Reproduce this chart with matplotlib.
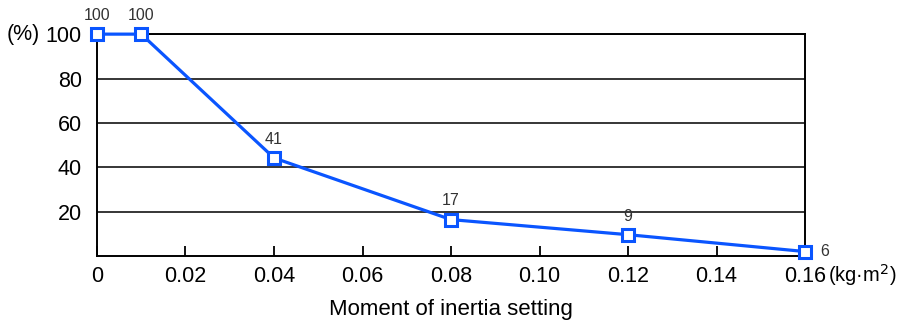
import matplotlib.pyplot as plt

plt.rcParams['font.family'] = ['Liberation Sans', 'DejaVu Sans']

# data
inertia = [0.0, 0.01, 0.04, 0.08, 0.12, 0.16]
percent = [100, 100, 44.2, 16.4, 9.6, 2.0]
point_labels = ['100', '100', '41', '17', '9', '6']
x_ticks = [0, 0.02, 0.04, 0.06, 0.08, 0.10, 0.12, 0.14, 0.16]
x_tick_labels = ['0', '0.02', '0.04', '0.06', '0.08', '0.10', '0.12', '0.14', '0.16']
y_ticks = [20, 40, 60, 80, 100]

blue = '#0a55ff'

fig = plt.figure(figsize=(8.98, 3.22), dpi=100)
ax = fig.add_axes([0.108, 0.205, 0.7885, 0.689])

for yv in y_ticks:
    ax.axhline(yv, color='black', linewidth=1.1, zorder=1)

ax.plot(inertia, percent, color=blue, linewidth=2.3, marker='s', markersize=9,
        markerfacecolor='white', markeredgecolor=blue, markeredgewidth=2.2,
        clip_on=False, zorder=3)

# value labels
for i, (xv, yv, lab) in enumerate(zip(inertia, percent, point_labels)):
    if i == len(inertia) - 1:
        ax.annotate(lab, (xv, yv), xytext=(11, 0), textcoords='offset points',
                    ha='left', va='center', fontsize=11.5, color='#333333')
    else:
        ax.annotate(lab, (xv, yv), xytext=(0, 8), textcoords='offset points',
                    ha='center', va='bottom', fontsize=11.5, color='#333333')

ax.set_xlim(0, 0.16)
ax.set_ylim(0, 100)
ax.set_xticks(x_ticks)
ax.set_xticklabels(x_tick_labels)
ax.set_yticks(y_ticks)
ax.tick_params(axis='x', direction='in', length=7, width=1.3, pad=7, labelsize=15.5)
ax.tick_params(axis='y', length=0, pad=11, labelsize=15.5)

for s in ['left', 'bottom', 'right', 'top']:
    ax.spines[s].set_linewidth(1.4)
    ax.spines[s].set_color('black')

ax.text(-0.0128, 100, '(%)', fontsize=15.5, ha='right', va='center')
ax.text(0.1652, -8.6, '(kg·m$^2$)', fontsize=14.5, ha='left', va='center')
ax.set_xlabel('Moment of inertia setting', fontsize=16, labelpad=9)

fig.savefig('out.png', dpi=100)
